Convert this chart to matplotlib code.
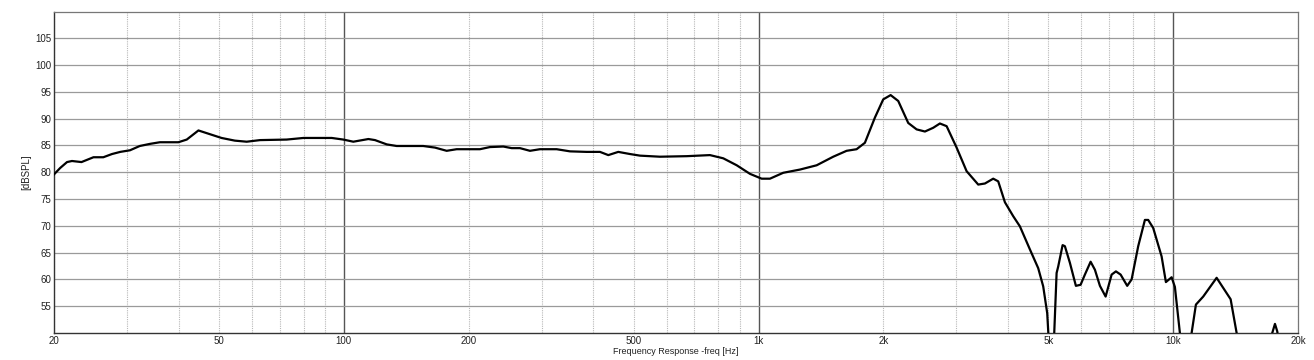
import matplotlib
matplotlib.use("Agg")
import matplotlib.pyplot as plt
from matplotlib.ticker import FixedLocator, NullFormatter

plt.rcParams['font.family'] = ['Liberation Sans', 'DejaVu Sans']

# Frequency response (Hz, dB SPL)
freq_hz = [
    20, 20.7, 21.5, 22.1, 23.3, 24.0, 24.9, 26.3, 27.6, 28.9, 30.5, 32.2, 34.1,
    36.0, 39.9, 41.8, 44.6, 47.6, 50.7, 54.6, 58.3, 62.8, 72.8, 79.9, 93.5,
    99.7, 105.4, 114.6, 118.9, 126.9, 134.1, 155.4, 165.9, 177.0, 187.1,
    212.9, 225.1, 242.4, 253.9, 265.9, 281.1, 297.1, 326.0, 351.0, 385.1,
    414.7, 434.3, 459.0, 489.8, 517.8, 547.3, 578.6, 671.1, 763.7, 822.3,
    886.1, 953.8, 1017.6, 1065.6, 1147.2, 1258.7, 1381.1, 1514.3, 1630.9,
    1724.1, 1805.4, 1908.5, 1998.9, 2082.8, 2172.6, 2296.4, 2406.0, 2519.6,
    2638.4, 2738.2, 2842.2, 3004.4, 3175.8, 3387.6, 3515.8, 3681.6, 3785.2,
    3928.6, 4113.8, 4269.6, 4513.4, 4726.4, 4859.4, 4968.6, 5050, 5130,
    5234.6, 5281.4, 5411.8, 5481.2, 5635.6, 5826.4, 5980.4, 6125, 6323,
    6475.6, 6658.2, 6872.2, 7105, 7276.8, 7469, 7747.8, 7939.4, 8235.4,
    8547.2, 8705.2, 8950.2, 9377.4, 9604, 9913, 10096, 10380, 10700, 11078,
    11346, 11816, 12729, 13204, 13758, 14225, 15500, 17336, 17598, 17824,
    18500, 20000,
]
spl_db = [
    79.6, 80.8, 81.9, 82.1, 81.9, 82.3, 82.8, 82.8, 83.4, 83.8, 84.1, 84.9, 85.3,
    85.6, 85.6, 86.1, 87.8, 87.1, 86.4, 85.9, 85.7, 86.0, 86.1, 86.4, 86.4,
    86.1, 85.7, 86.2, 86.0, 85.2, 84.9, 84.9, 84.6, 84.0, 84.3,
    84.3, 84.7, 84.8, 84.5, 84.5, 84.0, 84.3, 84.3, 83.9, 83.8,
    83.8, 83.2, 83.8, 83.4, 83.1, 83.0, 82.9, 83.0, 83.2, 82.6,
    81.3, 79.7, 78.8, 78.8, 79.9, 80.5, 81.3, 82.9, 84.0,
    84.3, 85.5, 90.2, 93.6, 94.4, 93.3, 89.2, 88.0, 87.6,
    88.3, 89.1, 88.6, 84.6, 80.2, 77.7, 77.9, 78.8, 78.3,
    74.4, 71.8, 69.9, 65.6, 62.1, 58.7, 53.7, 44.0, 44.0,
    61.2, 62.4, 66.4, 66.2, 63.1, 58.8, 59.0, 60.9, 63.3,
    61.8, 58.8, 56.8, 60.9, 61.5, 60.9, 58.8, 60.0, 66.2,
    71.1, 71.1, 69.6, 64.3, 59.5, 60.4, 58.6, 50.0, 40.0, 50.0,
    55.3, 56.8, 60.3, 58.4, 56.3, 50.0, 40.0, 50.0, 51.7, 50.3,
    42.0, 38.0,
]

x_tick_values = [20, 50, 100, 200, 500, 1000, 2000, 5000, 10000, 20000]
x_tick_labels = ['20', '50', '100', '200', '500', '1k', '2k', '5k', '10k', '20k']
y_tick_values = [55, 60, 65, 70, 75, 80, 85, 90, 95, 100, 105]

fig = plt.figure(figsize=(13.14, 3.6), dpi=100)
ax = fig.add_axes([54 / 1314, 1 - 333 / 360, 1244 / 1314, (333 - 11.5) / 360])

ax.set_xscale('log')
ax.set_xlim(20, 20000)
ax.set_ylim(50, 110)

# grid
minor = [m * d for d in (10, 100, 1000, 10000) for m in range(2, 10) if 20 <= m * d <= 20000]
for f in minor:
    ax.axvline(f, color='#b8b8b8', lw=0.8, ls=(0, (1, 1)), zorder=1)
for f in (100, 1000, 10000):
    ax.axvline(f, color='#555555', lw=1.0, zorder=1)
for yv in y_tick_values:
    ax.axhline(yv, color='#9a9a9a', lw=0.9, zorder=1)

ax.plot(freq_hz, spl_db, color='black', lw=1.6, zorder=3)

ax.xaxis.set_major_locator(FixedLocator(x_tick_values))
ax.xaxis.set_minor_locator(FixedLocator([]))
ax.xaxis.set_minor_formatter(NullFormatter())
ax.set_xticklabels(x_tick_labels)
ax.set_yticks(y_tick_values)
ax.tick_params(axis='both', length=0, labelsize=7, colors='#222222', pad=2)

ax.set_xlabel('Frequency Response -freq [Hz]', fontsize=6.5, color='#222222', labelpad=1)
ax.set_ylabel('[dBSPL]', fontsize=7, color='#222222', labelpad=3)

for side in ('left', 'bottom'):
    ax.spines[side].set_color('#333333')
    ax.spines[side].set_linewidth(1.0)
for side in ('top', 'right'):
    ax.spines[side].set_color('#777777')
    ax.spines[side].set_linewidth(0.9)

fig.savefig('out.png', dpi=100)
